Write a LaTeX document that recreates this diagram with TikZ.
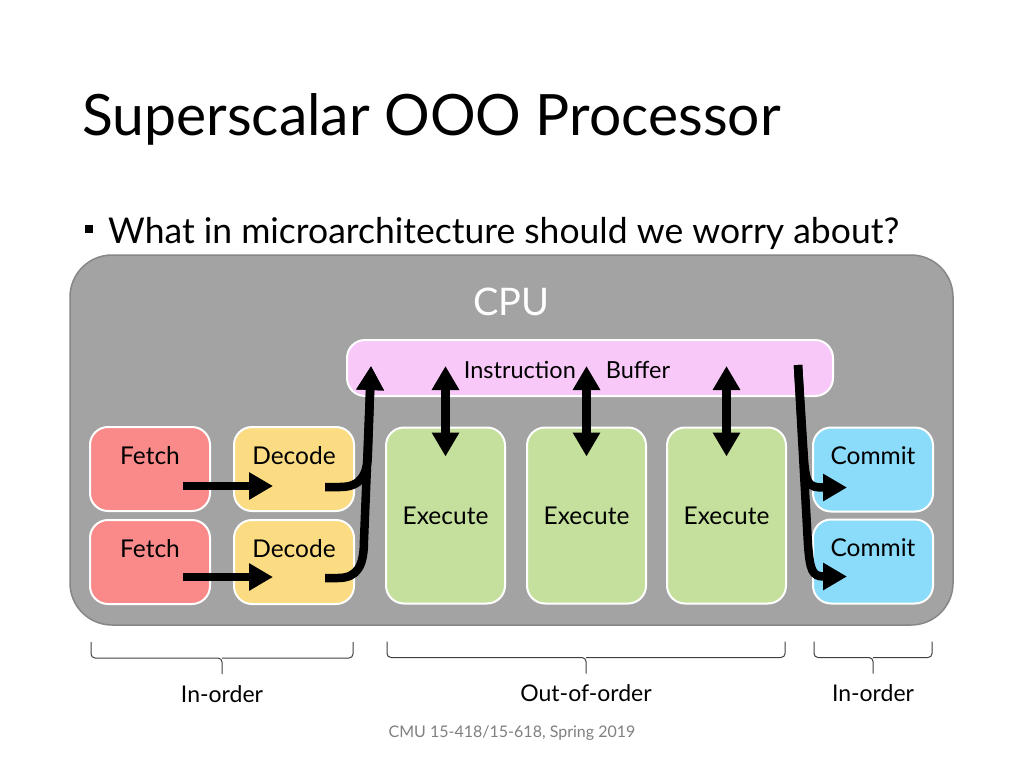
\documentclass[tikz,border=0pt]{standalone}
\usepackage{fontspec}
\setmainfont{Lato}
\usetikzlibrary{positioning,calc,arrows.meta}
\definecolor{cpugray}{RGB}{163,163,163}
\definecolor{cpuedge}{RGB}{135,135,135}
\definecolor{bufpink}{RGB}{248,200,248}
\definecolor{fetchred}{RGB}{250,138,138}
\definecolor{decyellow}{RGB}{251,220,130}
\definecolor{exgreen}{RGB}{196,224,156}
\definecolor{comblue}{RGB}{138,220,250}
\tikzset{stagebox/.style={draw=white, line width=2pt, rounded corners=18pt, minimum width=120pt, minimum height=84pt, inner sep=0pt},
  boxtext/.style={anchor=north, yshift=-17pt, font=\fontsize{24.5}{28}\selectfont},
  exbox/.style={stagebox, fill=exgreen, minimum width=119pt, minimum height=176pt, font=\fontsize{24.5}{28}\selectfont},
  arr/.style={line width=8.5pt, -{Triangle[length=24pt,width=26pt]}},
  dbl/.style={line width=8.5pt, {Triangle[length=24pt,width=26pt]}-{Triangle[length=24pt,width=26pt]}},
  bracel/.style={draw=black!75, line width=1pt, rounded corners=4pt},
}

\begin{document}
\begin{tikzpicture}[x=1pt, y=-1pt]
\useasboundingbox[fill=white] (0,0) rectangle (1024,768);
\node[anchor=base west, inner sep=0pt, font=\fontsize{57}{64}\selectfont] (title) at (82,135) {Superscalar OOO Processor};
\node[fill=black, minimum size=8pt, inner sep=0pt] (bullet) at (89,229) {};
\node[anchor=base west, inner sep=0pt, font=\fontsize{35.5}{40}\selectfont] (question) at (108,243) {What in microarchitecture should we worry about?};

% CPU frame and buffer
\node[draw=cpuedge, fill=cpugray, line width=1.5pt, rounded corners=42pt, minimum width=883pt, minimum height=370pt,
  label={[anchor=north, yshift=-30pt, text=white, font=\fontsize{38}{44}\selectfont]north:CPU}] (cpu) at (511.5,440) {};
\node[stagebox, fill=bufpink, minimum width=486pt, minimum height=56pt,
  label={[xshift=-23pt, yshift=-2pt, font=\fontsize{23.5}{27}\selectfont]center:Instruction\hspace{30pt}Buffer}] (buf) at (590,368) {};

% pipeline stages
\node[stagebox, fill=fetchred, label={[boxtext]north:Fetch}] (fetchA) at (150,469) {};
\node[stagebox, fill=fetchred, label={[boxtext]north:Fetch}] (fetchB) [below=7pt of fetchA] {};
\node[stagebox, fill=decyellow, label={[boxtext]north:Decode}] (decA) [right=22pt of fetchA] {};
\node[stagebox, fill=decyellow, label={[boxtext]north:Decode}] (decB) [right=22pt of fetchB] {};
\coordinate (mid) at ($(decA.north east)!0.5!(decB.south east)$);
\node[exbox] (exA) [right=30pt of mid] {Execute};
\node[exbox] (exB) [right=20pt of exA] {Execute};
\node[exbox] (exC) [right=19pt of exB] {Execute};
\node[stagebox, fill=comblue, label={[boxtext]north:Commit}] (comA) [right=25pt of exC.north east, anchor=north west] {};
\node[stagebox, fill=comblue, label={[boxtext]north:Commit}] (comB) [right=25pt of exC.south east, anchor=south west] {};

% arrows
\coordinate (bufin) at ($(buf.west)+(25,-2)$);
\coordinate (bufout) at ($(buf.east)+(-36,-3)$);
\draw[arr] ($(fetchA.center)+(33,17)$) -- ($(decA.center)+(-21,17)$);
\draw[arr] ($(fetchB.center)+(33,15)$) -- ($(decB.center)+(-21,15)$);
\draw[arr] ($(decA.center)+(31,18)$) -- ++(15,0) .. controls +(20,0) and +(0,25) .. ($(bufin)+(-3,85)$) -- (bufin);
\draw[arr] ($(decB.center)+(31,16)$) -- ++(13,0) .. controls +(20,0) and +(0,25) .. ($(bufin)+(-7,174)$) -- (bufin);
\draw[dbl] (exA.north |- bufin) -- ($(exA.north)+(0,30)$);
\draw[dbl] (exB.north |- bufin) -- ($(exB.north)+(0,30)$);
\draw[dbl] (exC.north |- bufin) -- ($(exC.north)+(0,30)$);
\draw[arr] (bufout) -- ($(bufout)+(6,95)$) .. controls +(2,25) and +(-15,0) .. ($(comA.west)+(12,18)$) -- ($(comA.west)+(35,18)$);
\draw[arr] (bufout) -- ($(bufout)+(10,180)$) .. controls +(2,25) and +(-12,0) .. ($(comB.west)+(12,15)$) -- ($(comB.west)+(35,15)$);

% braces
\foreach \l/\r/\t/\n in {fetchB.south west/decB.south east/In-order/a, exA.south west/exC.south east/Out-of-order/b, comB.south west/comB.south east/In-order/c}{
  \draw[bracel] ($(\l)+(2,37)$) |- ($(\l)!0.5!(\r)+(0,53)$) coordinate (m\n) -- ++(0,16) coordinate (t\n);
  \draw[bracel] ($(\r)+(-2,37)$) |- (m\n);
  \node[font=\fontsize{23}{27}\selectfont] (lbl\n) at ($(t\n)+(0,20)$) {\t};
}
\node[text=black!50, font=\fontsize{16}{19}\selectfont] (footer) at (512,733) {CMU 15-418/15-618, Spring 2019};
\end{tikzpicture}
\end{document}
